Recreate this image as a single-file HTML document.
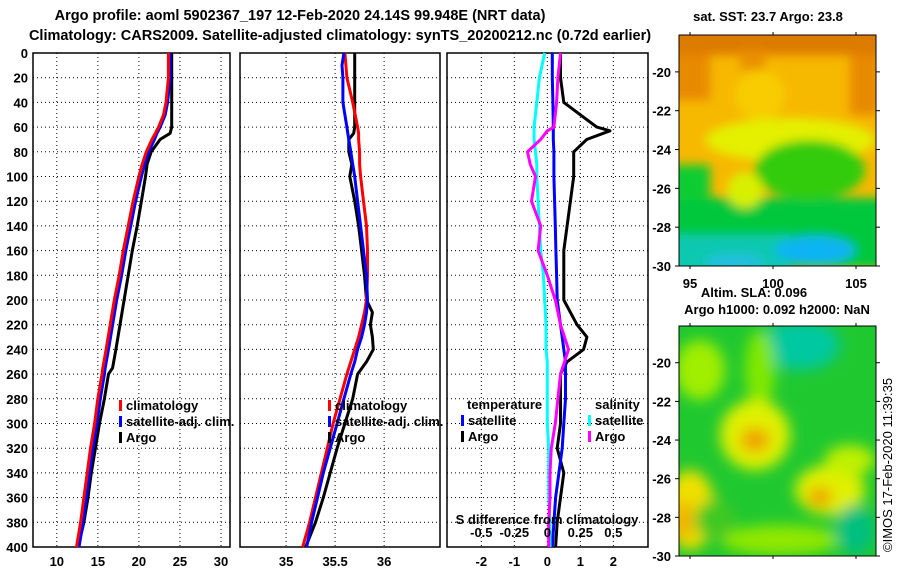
<!DOCTYPE html>
<html><head><meta charset="utf-8"><style>
body{margin:0;background:#fff}
svg text{font-family:"Liberation Sans",sans-serif;font-weight:bold;font-size:13px;fill:#000}
</style></head><body>
<svg id="c" width="900" height="580" xmlns="http://www.w3.org/2000/svg">
<defs>
<filter id="bl" x="-20%" y="-20%" width="140%" height="140%"><feGaussianBlur stdDeviation="5"/></filter>
<filter id="bl2" x="-20%" y="-20%" width="140%" height="140%"><feGaussianBlur stdDeviation="7"/></filter>
<clipPath id="cm1"><rect x="679" y="35" width="197" height="231"/></clipPath>
<clipPath id="cm2"><rect x="679" y="326" width="197" height="230"/></clipPath>
</defs>
<text x="300" y="20" text-anchor="middle" style="font-size:14.5px">Argo profile: aoml 5902367_197 12-Feb-2020 24.14S 99.948E (NRT data)</text>
<text x="340" y="40" text-anchor="middle" style="font-size:14.5px">Climatology: CARS2009. Satellite-adjusted climatology: synTS_20200212.nc (0.72d earlier)</text>

<g clip-path="url(#cm1)">
<rect x="679" y="35" width="197" height="231" fill="#f7b800"/>
<g filter="url(#bl)">
<rect x="670" y="25" width="220" height="30" fill="#dd7a00"/>
<rect x="670" y="55" width="40" height="45" fill="#e88a00"/>
<rect x="850" y="55" width="30" height="60" fill="#e88a00"/>
<rect x="740" y="50" width="25" height="20" fill="#ea9000"/>
<ellipse cx="760" cy="95" rx="25" ry="25" fill="#f8cc00"/>
<ellipse cx="790" cy="140" rx="85" ry="22" fill="#e4f000"/>
<rect x="670" y="198" width="220" height="70" fill="#00c83c"/>
<rect x="670" y="165" width="40" height="35" fill="#10cc30"/>
<ellipse cx="810" cy="170" rx="55" ry="30" fill="#30cc10"/>
<ellipse cx="745" cy="190" rx="18" ry="18" fill="#d8f000"/>
<rect x="670" y="235" width="120" height="40" fill="#10c8b0"/>
<ellipse cx="815" cy="250" rx="40" ry="14" fill="#10b4f4"/>
<ellipse cx="735" cy="262" rx="30" ry="8" fill="#20c0e0"/>
</g></g>
<rect x="679" y="35" width="197" height="231" fill="none" stroke="#000"/>

<g clip-path="url(#cm2)">
<rect x="679" y="326" width="197" height="230" fill="#20c830"/>
<g filter="url(#bl2)">
<ellipse cx="800" cy="345" rx="40" ry="25" fill="#00c8a0"/>
<ellipse cx="700" cy="370" rx="25" ry="30" fill="#a0ee00"/>
<ellipse cx="760" cy="370" rx="15" ry="40" fill="#80e800"/>
<ellipse cx="755" cy="435" rx="35" ry="35" fill="#e0f000"/>
<ellipse cx="755" cy="440" rx="15" ry="12" fill="#f0a000"/>
<ellipse cx="830" cy="490" rx="35" ry="25" fill="#e0f000"/>
<ellipse cx="820" cy="497" rx="12" ry="10" fill="#f0a000"/>
<ellipse cx="850" cy="460" rx="25" ry="15" fill="#c0f000"/>
<ellipse cx="690" cy="510" rx="25" ry="40" fill="#f0e000"/>
<ellipse cx="683" cy="520" rx="10" ry="20" fill="#f0b000"/>
<ellipse cx="780" cy="540" rx="60" ry="15" fill="#90e800"/>
<ellipse cx="855" cy="530" rx="20" ry="25" fill="#00c080"/>
<ellipse cx="715" cy="520" rx="20" ry="20" fill="#40c820"/>
</g></g>
<rect x="679" y="326" width="197" height="230" fill="none" stroke="#000"/>

<text x="768" y="21" text-anchor="middle">sat. SST: 23.7 Argo: 23.8</text>
<text x="754" y="297" text-anchor="middle">Altim. SLA: 0.096</text>
<text x="777" y="314" text-anchor="middle">Argo h1000: 0.092 h2000: NaN</text>
<text transform="translate(892,552) rotate(-90)" style="font-weight:normal">©IMOS 17-Feb-2020 11:39:35</text>
<g id="g"></g>
</svg>
<script>
const depths=[0,20,40,50,60,65,70,80,90,100,120,140,160,180,200,220,240,255,260,280,300,320,340,360,380,400];
const tArgo=[24.0,24.0,24.0,24.0,24.0,23.8,22.6,21.5,21.0,20.8,20.3,19.8,19.2,18.7,18.2,17.7,17.2,16.8,16.3,15.8,15.2,14.7,14.2,13.8,13.3,12.6];
const tClim=[23.6,23.6,23.3,23.0,22.4,22.0,21.6,20.9,20.4,20.0,19.3,18.7,18.1,17.6,17.0,16.5,16.0,15.6,15.5,15.0,14.6,14.1,13.7,13.3,12.9,12.4];
const tSat=[23.8,23.8,23.5,23.2,22.6,22.2,21.9,21.2,20.7,20.3,19.6,19.0,18.4,17.9,17.3,16.8,16.3,15.9,15.8,15.3,14.9,14.4,14.0,13.6,13.2,12.7];
const sDepths=[0,10,20,40,60,65,70,80,90,100,120,140,160,180,200,210,220,230,240,250,260,280,300,320,340,360,380,400];
const sArgo=[35.70,35.70,35.70,35.70,35.70,35.69,35.64,35.64,35.67,35.65,35.70,35.74,35.77,35.80,35.82,35.88,35.86,35.88,35.89,35.82,35.73,35.68,35.60,35.52,35.45,35.38,35.30,35.20];
const sClim=[35.60,35.61,35.62,35.68,35.73,35.74,35.74,35.75,35.75,35.76,35.79,35.82,35.83,35.83,35.82,35.80,35.77,35.74,35.70,35.66,35.62,35.55,35.48,35.42,35.36,35.30,35.24,35.17];
const sSat=[35.59,35.57,35.58,35.58,35.62,35.63,35.64,35.66,35.68,35.70,35.73,35.76,35.79,35.82,35.83,35.82,35.80,35.77,35.73,35.70,35.66,35.59,35.52,35.45,35.38,35.32,35.26,35.21];
const dDepths=[0,20,40,60,63,70,80,90,100,120,140,160,180,200,220,230,240,250,260,280,300,320,340,360,380,400];
const dTSat=[0.15,0.15,0.17,0.18,0.18,0.18,0.2,0.2,0.2,0.22,0.24,0.26,0.28,0.3,0.4,0.45,0.5,0.55,0.55,0.55,0.5,0.45,0.35,0.25,0.2,0.15];
const dTArgo=[0.4,0.4,0.5,1.5,1.9,1.2,0.8,0.8,0.8,0.7,0.6,0.5,0.5,0.5,0.9,1.2,1.1,0.6,0.4,0.4,0.4,0.3,0.5,0.4,0.3,0.25];
const dSSat=[-0.02,-0.06,-0.08,-0.1,-0.1,-0.1,-0.09,-0.08,-0.08,-0.07,-0.06,-0.05,-0.03,-0.02,-0.01,-0.01,-0.01,0,0,0,0,0.01,0.01,0.01,0.02,0.02];
const dSArgo=[0.1,0.08,0.07,0.05,0.0,-0.05,-0.15,-0.13,-0.09,-0.12,-0.05,-0.07,0.0,0.06,0.1,0.13,0.16,0.13,0.1,0.08,0.06,0.03,0.02,0.02,0.01,0.01];
const depthTicks=[0,20,40,60,80,100,120,140,160,180,200,220,240,260,280,300,320,340,360,380,400];
const tTicks=[10,15,20,25,30];
const sTicks=[35,35.5,36];
const dTicks=[-2,-1,0,1,2];
const dSTicks=[-0.5,-0.25,0,0.25,0.5];
const mapLonTicks=[95,100,105];
const mapLatTicks=[-20,-22,-24,-26,-28,-30];

const NS="http://www.w3.org/2000/svg";
const G=document.getElementById('g');
function mk(t,a,p){const e=document.createElementNS(NS,t);for(const k in a)e.setAttribute(k,a[k]);(p||G).appendChild(e);return e;}
const Y0=53,Y1=547;
const yD=d=>Y0+(Y1-Y0)*d/400;
const panels=[
 {x0:33,x1:230,min:7.1,max:31.1,ticks:tTicks,name:'temperature'},
 {x0:240,x1:440,min:34.53,max:36.57,ticks:sTicks,name:'salinity'},
 {x0:447,x1:648,min:-3.04,max:3.05,ticks:dTicks,name:'difference'}];
panels.forEach(p=>{p.f=v=>p.x0+(v-p.min)/(p.max-p.min)*(p.x1-p.x0);});
panels.forEach((p,i)=>{
 const g=mk('g',{});
 
 
 depthTicks.forEach(d=>{const l=mk('line',{x1:p.x0,x2:p.x1,y1:yD(d),y2:yD(d),stroke:'#000','stroke-dasharray':'1,3'},g);
  });
 p.ticks.forEach(t=>{const x=p.f(t);mk('line',{x1:x,x2:x,y1:Y0,y2:Y1,stroke:'#000','stroke-dasharray':'1,3'},g);
  const tx=mk('text',{x:x,y:566,'text-anchor':'middle'},g);tx.textContent=String(t);
  });
 const r=mk('rect',{x:p.x0,y:Y0,width:p.x1-p.x0,height:Y1-Y0,fill:'none',stroke:'#000','stroke-width':1.5},g);
 
});
depthTicks.forEach(d=>{const t=mk('text',{x:28,y:yD(d)+5,'text-anchor':'end'});t.textContent=d;
 });
function line(p,xs,ds,col,name,fx){
 const pts=xs.map((v,i)=>(fx?fx(v):p.f(v)).toFixed(1)+','+yD(ds[i]).toFixed(1)).join(' ');
 const e=mk('polyline',{points:pts,fill:'none',stroke:col,'stroke-width':3,'stroke-linejoin':'round'});
 
}
const P=panels;
line(P[0],tArgo,depths,'#000','temp-argo-line');
line(P[0],tSat,depths,'#00f','temp-satellite-line');
line(P[0],tClim,depths,'#f00','temp-climatology-line');
line(P[1],sArgo,sDepths,'#000','sal-argo-line');
line(P[1],sClim,sDepths,'#f00','sal-climatology-line');
line(P[1],sSat,sDepths,'#00f','sal-satellite-line');
const sf=v=>P[2].f(v*4);
line(P[2],dTArgo,dDepths,'#000','dtemp-argo-line');
line(P[2],dTSat,dDepths,'#00f','dtemp-satellite-line');
line(P[2],dSSat,dDepths,'#0ff','dsal-satellite-line',sf);
line(P[2],dSArgo,dDepths,'#f0f','dsal-argo-line',sf);
dSTicks.forEach(t=>{const tx=mk('text',{x:sf(t),y:537,'text-anchor':'middle'});tx.textContent=t;
 });
const st=mk('text',{x:547,y:524,'text-anchor':'middle'});st.textContent='S difference from climatology';

function leg(x,y,col,label){
 const r=mk('rect',{x:x,y:y-10,width:3,height:11,fill:col});
 
 const t=mk('text',{x:x+7,y:y});t.textContent=label;
 
}
leg(119,410,'#f00','climatology');leg(119,426,'#00f','satellite-adj. clim.');leg(119,442,'#000','Argo');
leg(328,410,'#f00','climatology');leg(328,426,'#00f','satellite-adj. clim.');leg(328,442,'#000','Argo');
let tt=mk('text',{x:467,y:409});tt.textContent='temperature';
tt=mk('text',{x:595,y:409});tt.textContent='salinity';
leg(461,425,'#00f','satellite');leg(461,441,'#000','Argo');
leg(588,425,'#0ff','satellite');leg(588,441,'#f0f','Argo');
const lonX=v=>690+(v-95)*16.6;
function mapAxes(top,bot,name){
 const latY=v=>top+ (-v-18.1)/(30-18.1)*(bot-top);
 mapLatTicks.forEach(v=>{const y=latY(v);
  mk('line',{x1:675,x2:679,y1:y,y2:y,stroke:'#000'});mk('line',{x1:876,x2:880,y1:y,y2:y,stroke:'#000'});
  const t=mk('text',{x:671,y:y+5,'text-anchor':'end'});t.textContent=v;
  });
 mapLonTicks.forEach(v=>{const x=lonX(v);
  mk('line',{x1:x,x2:x,y1:top-3,y2:top,stroke:'#000'});mk('line',{x1:x,x2:x,y1:bot,y2:bot+3,stroke:'#000'});});
}
mapAxes(35,266,'sst-map');mapAxes(326,556,'sla-map');
mapLonTicks.forEach(v=>{const t=mk('text',{x:lonX(v),y:288,'text-anchor':'middle'});t.textContent=v;
 });
</script>
</body></html>
